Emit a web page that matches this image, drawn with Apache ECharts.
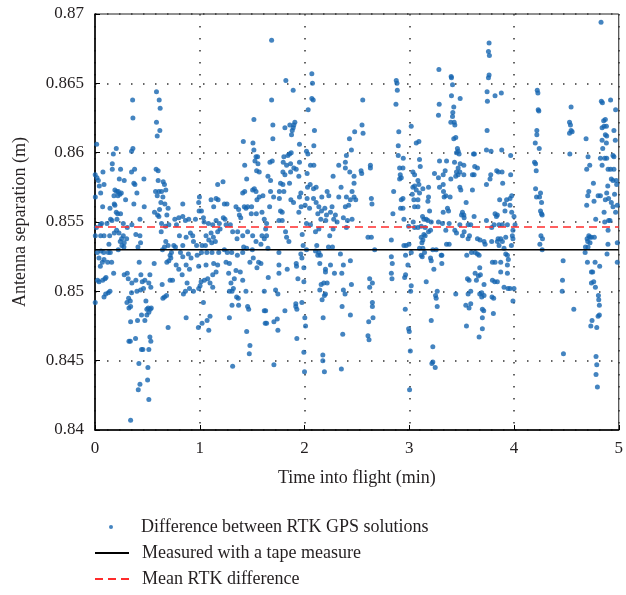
<!DOCTYPE html>
<html><head><meta charset="utf-8">
<script src="https://cdn.jsdelivr.net/npm/echarts@6/dist/echarts.min.js"></script>
<style>html,body{margin:0;padding:0;background:#fff}#c{width:626px;height:595px}</style>
</head><body><div id="c"></div>
<script>
// ---- data ----
const xTicks = [0, 1, 2, 3, 4, 5];
const yTicks = [0.84, 0.845, 0.85, 0.855, 0.86, 0.865, 0.87];
const tapeMeasure = 0.853;
const meanRTK = 0.85464;
const nameScatter = 'Difference between RTK GPS solutions';
const nameTape = 'Measured with a tape measure';
const nameMean = 'Mean RTK difference';
const xTitle = 'Time into flight (min)';
const yTitle = 'Antenna separation (m)';

// [time (min), separation (m)]
const ptsA = [[0.359,0.8638],[0.362,0.8625],[0.587,0.8644],[0.613,0.8638],[0.622,0.8632],[0.587,0.8622],[0.619,0.8616],[0.594,0.8612],[0.016,0.8606],[0.362,0.8603],[0.349,0.8601],[0.203,0.8603],[0.175,0.8599],[0.165,0.8592],[0.165,0.8588],[0.244,0.8588],[0.076,0.8586],[0.378,0.8588],[0.002,0.8584],[0.019,0.8582],[0.032,0.858],[0.584,0.8588],[0.603,0.8587],[0.232,0.8581],[0.279,0.858],[0.467,0.8581],[0.349,0.8586],[0.603,0.858],[0.651,0.8579],[0.663,0.8577],[0.676,0.8573],[0.086,0.8577],[0.041,0.8576],[0.371,0.8578],[0.381,0.8577],[0.003,0.8568],[0.054,0.8571],[0.19,0.8573],[0.206,0.8572],[0.222,0.8572],[0.238,0.857],[0.251,0.8571],[0.181,0.8569],[0.219,0.8569],[0.578,0.8572],[0.61,0.8572],[0.635,0.8572],[0.594,0.8569],[0.648,0.8568],[0.4,0.8571],[0.292,0.8566],[0.073,0.8561],[0.143,0.856],[0.19,0.8562],[0.184,0.8563],[0.371,0.8563],[0.47,0.8561],[0.667,0.8563],[0.629,0.8564],[0.616,0.8559],[0.568,0.8557],[0.597,0.8555],[0.698,0.856],[0.686,0.8555],[0.203,0.8557],[0.216,0.8556],[0.244,0.8556],[0.21,0.8552],[0.149,0.8552],[0.162,0.8551],[0.114,0.8549],[0.063,0.8549],[0.051,0.8548],[0.013,0.8546],[0.429,0.8552],[0.352,0.8548],[0.27,0.8549],[0.308,0.8546],[0.61,0.8554],[0.635,0.8549],[0.632,0.8543],[0.673,0.8547],[0.705,0.8548],[0.762,0.8552],[0.778,0.8548],[0.003,0.854],[0.054,0.854],[0.086,0.854],[0.14,0.854],[0.184,0.8542],[0.206,0.8544],[0.229,0.8542],[0.27,0.854],[0.254,0.8538],[0.302,0.8538],[0.241,0.8536],[0.257,0.8533],[0.276,0.8532],[0.279,0.8535],[0.39,0.8541],[0.429,0.854],[0.435,0.8535],[0.41,0.8532],[0.676,0.8536],[0.698,0.8533],[0.663,0.8532],[0.644,0.853],[0.752,0.8533],[0.768,0.8532],[0.133,0.8534],[0.057,0.8529],[0.083,0.8528],[0.127,0.8528],[0.146,0.8528],[0.222,0.853],[0.022,0.8528],[0.038,0.8524],[0.086,0.8523],[0.07,0.8521],[0.121,0.8521],[0.159,0.8521],[0.051,0.8518],[0.178,0.8513],[0.73,0.8528],[0.717,0.8526],[0.705,0.8522],[0.686,0.8521],[0.724,0.8524],[0.565,0.852],[0.422,0.8521],[0.775,0.8519],[0.279,0.8512],[0.308,0.8513],[0.317,0.8509],[0.352,0.8506],[0.438,0.8512],[0.524,0.8512],[0.39,0.8508],[0.451,0.8507],[0.476,0.8508],[0.514,0.8506],[0.533,0.8503],[0.435,0.8501],[0.463,0.8502],[0.4,0.85],[0.349,0.8499],[0.025,0.8508],[0.038,0.8507],[0.073,0.8508],[0.095,0.8509],[0.105,0.851],[0.086,0.8496],[0.102,0.8498],[0.127,0.8499],[0.143,0.85],[0.002,0.8492],[0.641,0.8505],[0.717,0.8508],[0.74,0.8508],[0.648,0.8495],[0.663,0.8496],[0.683,0.8497],[0.321,0.8495],[0.337,0.8493],[0.305,0.8492],[0.324,0.8488],[0.34,0.8489],[0.486,0.8493],[0.508,0.8488],[0.495,0.8487],[0.527,0.8487],[0.537,0.8488],[0.514,0.8485],[0.495,0.8483],[0.444,0.8483],[0.406,0.8479],[0.476,0.8479],[0.34,0.8478],[0.698,0.8474],[0.337,0.8464],[0.324,0.8464],[0.387,0.8466],[0.444,0.8458],[0.457,0.8458],[0.514,0.8458],[0.524,0.8467],[0.533,0.8464],[0.419,0.8448],[0.505,0.8445],[0.502,0.8436],[0.429,0.8433],[0.413,0.8429],[0.514,0.8422],[0.34,0.8407]];
const ptsB = [[1.517,0.8624],[1.416,0.8608],[1.508,0.8607],[1.517,0.8602],[1.429,0.8591],[1.537,0.8597],[1.527,0.8594],[1.552,0.8597],[1.556,0.8592],[1.543,0.8587],[1.568,0.8586],[1.448,0.8581],[1.222,0.8579],[1.171,0.8577],[1.521,0.8574],[1.505,0.8573],[1.537,0.8572],[1.429,0.8572],[1.41,0.8571],[1.568,0.8568],[1.603,0.8569],[1.546,0.8566],[1.156,0.8567],[1.175,0.8566],[1.108,0.8566],[1.133,0.8561],[0.997,0.8568],[0.99,0.8564],[0.994,0.8558],[1.016,0.8558],[0.838,0.8563],[1.235,0.8563],[1.26,0.8563],[1.346,0.8561],[1.371,0.8559],[1.425,0.8561],[1.457,0.8561],[1.495,0.8561],[1.441,0.856],[1.378,0.8555],[1.391,0.8553],[1.54,0.8556],[1.492,0.8556],[1.594,0.8557],[1.616,0.8552],[0.8,0.8553],[0.838,0.8554],[0.863,0.8551],[0.895,0.8552],[0.959,0.8552],[1.035,0.8553],[1.187,0.8549],[1.225,0.8553],[1.241,0.8552],[1.156,0.8551],[1.124,0.8548],[1.083,0.8549],[1.041,0.855],[1.251,0.8548],[1.292,0.8548],[1.194,0.8545],[1.171,0.8543],[1.108,0.8542],[1.06,0.854],[1.13,0.8539],[1.086,0.8537],[1.022,0.8533],[1.054,0.8533],[1.114,0.8535],[1.149,0.8536],[0.911,0.8542],[0.933,0.854],[0.87,0.8539],[0.838,0.8533],[0.806,0.854],[0.94,0.8536],[0.97,0.8533],[1.314,0.8543],[1.362,0.8543],[1.356,0.8538],[1.41,0.854],[1.457,0.8543],[1.505,0.854],[1.537,0.8536],[1.594,0.854],[1.616,0.8538],[1.419,0.8532],[1.448,0.8531],[1.502,0.853],[1.584,0.8534],[0.816,0.8528],[0.892,0.8527],[0.838,0.8525],[0.917,0.8524],[0.975,0.8526],[1.016,0.8528],[1.067,0.8528],[1.117,0.8528],[1.181,0.8528],[1.235,0.853],[1.263,0.8528],[1.305,0.8528],[1.359,0.8526],[1.41,0.8528],[0.87,0.8519],[0.902,0.8516],[0.832,0.8512],[0.8,0.8516],[0.99,0.8518],[1.06,0.8519],[1.133,0.852],[1.171,0.8519],[1.156,0.8514],[1.124,0.8512],[1.076,0.8509],[1.044,0.8508],[1.013,0.8507],[1.098,0.8506],[1.124,0.8503],[1.251,0.8521],[1.283,0.852],[1.276,0.8513],[1.346,0.8515],[1.33,0.8509],[1.387,0.8514],[1.479,0.8521],[1.511,0.8524],[1.562,0.8521],[1.546,0.8517],[1.584,0.852],[1.41,0.8508],[1.441,0.85],[0.879,0.8506],[0.902,0.8502],[0.94,0.85],[0.863,0.85],[0.844,0.8498],[0.99,0.8502],[1.003,0.8504],[1.298,0.8506],[1.321,0.8502],[1.308,0.85],[1.283,0.85],[1.352,0.8496],[1.368,0.8495],[1.308,0.849],[1.371,0.849],[1.616,0.85],[1.457,0.8489],[1.467,0.8487],[1.616,0.8486],[1.035,0.8492],[0.87,0.8481],[1.098,0.8482],[1.07,0.8479],[1.022,0.8477],[0.987,0.8474],[1.086,0.8472],[1.283,0.8481],[1.625,0.8477],[1.448,0.8471],[1.479,0.8461],[1.473,0.8455],[1.314,0.8446]];
const ptsC = [[1.686,0.8681],[1.822,0.8652],[2.07,0.8657],[2.076,0.865],[1.892,0.8645],[1.686,0.8638],[2.07,0.8639],[2.083,0.8638],[2.035,0.8631],[1.908,0.8622],[1.898,0.862],[1.892,0.8618],[1.883,0.8616],[1.813,0.8618],[1.698,0.862],[1.86,0.862],[1.876,0.8613],[1.698,0.861],[2.095,0.8616],[1.952,0.8606],[2.089,0.8605],[2.019,0.8601],[2.032,0.8599],[1.692,0.8594],[1.67,0.8593],[1.803,0.8597],[1.841,0.8598],[1.857,0.8599],[1.873,0.86],[1.797,0.8593],[1.829,0.8591],[1.867,0.8592],[1.898,0.8589],[1.921,0.8588],[1.952,0.8593],[2.057,0.8591],[2.089,0.8591],[1.651,0.8583],[1.676,0.858],[1.794,0.8586],[1.813,0.8584],[1.867,0.8586],[1.946,0.8583],[2.025,0.8585],[2.273,0.8583],[2.327,0.8591],[2.39,0.8593],[2.39,0.8589],[2.432,0.8586],[2.448,0.8602],[2.429,0.861],[2.4,0.8598],[1.771,0.8578],[1.794,0.8577],[1.857,0.8578],[1.676,0.8572],[1.76,0.8572],[1.803,0.8572],[1.705,0.8568],[1.76,0.8567],[1.87,0.8566],[1.895,0.8564],[1.952,0.8568],[1.965,0.8571],[2.029,0.8575],[2.054,0.8577],[2.086,0.8574],[2.111,0.8575],[2.025,0.8567],[2.086,0.8567],[2.111,0.8564],[2.165,0.8568],[2.216,0.8572],[2.232,0.8569],[2.327,0.8568],[2.349,0.8575],[2.4,0.8568],[2.438,0.8566],[2.454,0.8572],[1.667,0.8561],[1.968,0.8561],[2.006,0.8562],[2.048,0.856],[2.137,0.8561],[2.194,0.856],[2.263,0.8561],[2.39,0.8561],[2.422,0.8562],[1.771,0.8558],[1.787,0.8557],[1.946,0.8557],[2.127,0.8556],[2.162,0.8558],[2.21,0.8555],[2.248,0.8557],[2.295,0.8555],[1.756,0.8551],[1.787,0.8551],[2.156,0.8552],[2.203,0.8551],[2.279,0.8552],[2.311,0.855],[2.371,0.8553],[2.41,0.8551],[2.454,0.8552],[2.019,0.8549],[2.057,0.8548],[1.638,0.8549],[1.629,0.8545],[2.137,0.8545],[2.105,0.8543],[2.273,0.8545],[2.4,0.8546],[1.819,0.8543],[1.829,0.8539],[1.851,0.8536],[1.978,0.8541],[1.638,0.854],[2.241,0.854],[2.117,0.8533],[2.229,0.8532],[2.267,0.8532],[1.987,0.8533],[2.019,0.853],[2.105,0.8529],[2.137,0.8528],[2.152,0.8526],[2.343,0.8527],[2.438,0.8522],[1.651,0.8531],[1.756,0.8528],[1.965,0.8527],[1.975,0.8524],[2.127,0.8526],[2.146,0.852],[2.2,0.8516],[2.2,0.8514],[2.248,0.8519],[2.286,0.8513],[2.371,0.8519],[2.356,0.8513],[1.654,0.851],[1.756,0.8519],[1.756,0.8513],[1.835,0.8516],[1.921,0.852],[1.924,0.8518],[1.994,0.8517],[1.937,0.8509],[1.994,0.8507],[2.159,0.8505],[2.184,0.8506],[2.216,0.8506],[2.146,0.8501],[2.2,0.8498],[2.168,0.8494],[2.19,0.8497],[2.371,0.8501],[2.387,0.8498],[2.448,0.8505],[1.724,0.8501],[1.746,0.8498],[1.975,0.8492],[1.917,0.8491],[1.917,0.8489],[1.927,0.8487],[1.629,0.8486],[1.813,0.8486],[2.359,0.8489],[2.438,0.8483],[2.003,0.8481],[2.01,0.8475],[2.178,0.8481],[1.638,0.8477],[1.708,0.8478],[1.74,0.848],[1.746,0.8472],[1.927,0.8466],[2.365,0.8469],[1.994,0.8456],[2.175,0.8454],[2.175,0.845],[2.19,0.8442],[2.352,0.8444],[1.708,0.8447],[2.0,0.8442]];
const ptsD = [[3.283,0.866],[2.876,0.8652],[2.883,0.865],[2.886,0.8645],[2.556,0.8638],[2.873,0.8635],[3.286,0.8635],[3.279,0.8627],[3.019,0.8619],[2.549,0.862],[2.559,0.8614],[2.479,0.8615],[2.9,0.8615],[3.067,0.8607],[3.092,0.8608],[2.895,0.8605],[2.895,0.8598],[2.943,0.8596],[3.289,0.8594],[3.098,0.8595],[3.105,0.859],[2.908,0.8589],[2.94,0.8589],[2.914,0.8584],[2.924,0.8582],[2.908,0.8581],[3.035,0.8586],[3.051,0.8584],[3.083,0.858],[2.629,0.8591],[2.629,0.8589],[2.54,0.8587],[2.546,0.8585],[2.473,0.8583],[2.473,0.8578],[3.241,0.8585],[3.279,0.8582],[3.289,0.8575],[3.035,0.8575],[3.051,0.8576],[3.092,0.8577],[3.13,0.8574],[3.184,0.8575],[3.067,0.8573],[2.851,0.8572],[3.029,0.857],[3.098,0.8571],[3.184,0.8568],[3.083,0.8566],[3.044,0.8566],[2.94,0.8567],[2.924,0.8566],[2.473,0.8568],[2.489,0.8566],[2.638,0.8567],[2.644,0.8563],[3.051,0.8561],[3.083,0.8561],[3.178,0.8565],[3.194,0.8558],[2.917,0.856],[2.94,0.856],[2.844,0.8556],[2.949,0.8552],[3.127,0.8554],[3.14,0.8552],[3.162,0.8552],[3.178,0.8551],[3.21,0.855],[3.279,0.855],[3.038,0.855],[2.994,0.8547],[3.051,0.8546],[3.083,0.8546],[3.114,0.8547],[3.152,0.8546],[3.184,0.8543],[3.203,0.8544],[3.14,0.8541],[3.114,0.8539],[3.152,0.854],[3.13,0.8537],[3.121,0.8535],[3.098,0.8531],[3.13,0.8531],[3.146,0.8528],[3.114,0.8526],[3.124,0.8525],[3.225,0.853],[3.257,0.853],[3.305,0.8526],[3.203,0.8524],[3.21,0.8522],[3.235,0.8516],[2.606,0.8539],[2.638,0.8539],[2.67,0.853],[2.829,0.8537],[2.949,0.8533],[2.971,0.8533],[2.997,0.8534],[3.019,0.8528],[2.965,0.8526],[2.987,0.8519],[2.829,0.8525],[2.838,0.852],[2.829,0.8513],[2.835,0.8509],[2.965,0.8512],[2.956,0.851],[3.019,0.8504],[3.013,0.85],[2.622,0.8509],[2.648,0.8506],[2.622,0.8503],[2.648,0.8492],[2.648,0.8489],[2.654,0.8481],[2.613,0.8478],[2.606,0.8468],[2.616,0.8465],[3.162,0.8507],[3.267,0.85],[3.251,0.8497],[3.257,0.8495],[3.267,0.8489],[2.962,0.8487],[3.21,0.8479],[2.994,0.8473],[3.0,0.8471],[3.01,0.8457],[3.225,0.846],[3.225,0.8449],[3.216,0.8448],[3.248,0.8445],[3.003,0.8429]];
const ptsE = [[3.762,0.8679],[3.756,0.8673],[3.765,0.867],[3.4,0.8655],[3.403,0.8654],[3.762,0.8656],[3.756,0.8654],[3.413,0.8649],[3.743,0.8644],[3.819,0.8641],[3.879,0.8643],[3.403,0.8641],[3.486,0.8639],[3.746,0.8637],[3.425,0.8633],[3.416,0.8629],[3.413,0.8626],[3.397,0.8622],[3.429,0.8622],[3.435,0.862],[3.743,0.8616],[3.444,0.8611],[3.425,0.861],[3.46,0.8603],[3.467,0.8601],[3.451,0.86],[3.476,0.8599],[3.737,0.8602],[3.781,0.8601],[3.883,0.8602],[3.968,0.8598],[3.356,0.8594],[3.432,0.8593],[3.486,0.8592],[3.521,0.8591],[3.613,0.8599],[3.622,0.8599],[3.625,0.859],[3.651,0.8589],[3.467,0.8589],[3.451,0.8586],[3.343,0.8587],[3.324,0.8584],[3.483,0.8586],[3.521,0.8584],[3.778,0.8584],[3.835,0.8587],[3.851,0.8586],[3.886,0.8586],[3.771,0.8581],[3.968,0.8584],[3.397,0.8581],[3.444,0.8583],[3.467,0.8584],[3.603,0.8584],[3.619,0.8584],[3.892,0.8578],[3.737,0.8577],[3.324,0.8577],[3.327,0.8572],[3.349,0.8569],[3.333,0.8568],[3.39,0.8568],[3.483,0.8575],[3.492,0.8573],[3.603,0.8573],[3.978,0.8569],[3.962,0.8567],[3.929,0.8566],[3.863,0.8566],[3.543,0.8564],[3.911,0.8563],[3.962,0.8562],[3.365,0.856],[3.375,0.8558],[3.324,0.8557],[3.914,0.8558],[3.978,0.8557],[4.0,0.8554],[3.508,0.8557],[3.521,0.8555],[3.499,0.8555],[3.524,0.8553],[3.619,0.8554],[3.819,0.8556],[3.841,0.8555],[3.832,0.8554],[3.737,0.8551],[3.317,0.8549],[3.381,0.8549],[3.483,0.8548],[3.562,0.8548],[3.587,0.8548],[3.81,0.8548],[3.857,0.8548],[3.889,0.8548],[3.937,0.8548],[4.01,0.8548],[3.99,0.8544],[3.787,0.8546],[3.349,0.8544],[3.435,0.8544],[3.451,0.8542],[3.524,0.8543],[3.508,0.854],[3.575,0.854],[3.562,0.8538],[3.651,0.8538],[3.676,0.8537],[3.714,0.8536],[3.724,0.8534],[3.787,0.8536],[3.848,0.8538],[3.873,0.8538],[3.889,0.8536],[3.841,0.8536],[3.857,0.8533],[3.921,0.8539],[3.984,0.854],[3.99,0.8538],[3.975,0.8533],[3.905,0.8531],[3.921,0.8527],[3.937,0.8526],[3.356,0.8534],[3.381,0.8534],[3.311,0.8526],[3.549,0.8526],[3.594,0.8528],[3.629,0.8528],[3.651,0.8527],[3.667,0.8526],[3.794,0.8521],[3.819,0.8521],[3.873,0.8521],[3.946,0.8523],[3.937,0.8519],[3.937,0.8513],[3.873,0.8514],[3.673,0.8517],[3.629,0.8513],[3.66,0.8511],[3.679,0.8512],[3.641,0.8508],[3.571,0.8508],[3.556,0.8509],[3.714,0.8505],[3.794,0.8508],[3.816,0.8507],[3.841,0.8507],[3.311,0.852],[3.905,0.8503],[3.943,0.8502],[3.962,0.8502],[4.0,0.8502],[3.99,0.8493],[3.444,0.8498],[3.587,0.85],[3.562,0.8498],[3.673,0.8498],[3.692,0.8499],[3.692,0.8496],[3.714,0.8497],[3.79,0.8496],[3.806,0.8495],[3.54,0.849],[3.587,0.8491],[3.571,0.8488],[3.698,0.8487],[3.711,0.8486],[3.803,0.8484],[3.698,0.8481],[3.546,0.8475],[3.698,0.8473],[3.667,0.8467]];
const ptsF = [[4.831,0.8694],[4.222,0.8645],[4.228,0.8643],[4.231,0.8631],[4.237,0.863],[4.218,0.8616],[4.218,0.8613],[4.203,0.8607],[4.241,0.8603],[4.196,0.8593],[4.206,0.8592],[4.212,0.8587],[4.206,0.8574],[4.215,0.8568],[4.244,0.8568],[4.253,0.8571],[4.263,0.8564],[4.253,0.8558],[4.263,0.8556],[4.269,0.8555],[4.257,0.854],[4.272,0.8538],[4.247,0.8534],[4.269,0.853],[4.545,0.8633],[4.53,0.8622],[4.539,0.862],[4.545,0.8616],[4.53,0.8614],[4.555,0.8615],[4.533,0.8599],[4.469,0.8522],[4.463,0.8508],[4.46,0.85],[4.571,0.8487],[4.472,0.8455],[4.688,0.861],[4.707,0.8597],[4.694,0.8588],[4.723,0.8591],[4.758,0.8578],[4.714,0.8572],[4.704,0.8569],[4.694,0.8562],[4.764,0.8565],[4.803,0.8569],[4.825,0.8569],[4.78,0.8552],[4.714,0.854],[4.723,0.8539],[4.739,0.8539],[4.767,0.8539],[4.698,0.8538],[4.704,0.8536],[4.726,0.8535],[4.682,0.8532],[4.679,0.8528],[4.707,0.8532],[4.701,0.8521],[4.739,0.8514],[4.751,0.8514],[4.774,0.8521],[4.818,0.8518],[4.739,0.8506],[4.761,0.8507],[4.777,0.8503],[4.806,0.8497],[4.809,0.8494],[4.815,0.849],[4.803,0.8482],[4.815,0.8483],[4.745,0.8479],[4.733,0.8475],[4.79,0.8474],[4.783,0.8453],[4.79,0.8447],[4.783,0.844],[4.796,0.8431],[4.834,0.8637],[4.844,0.8636],[4.856,0.8623],[4.872,0.8624],[4.841,0.8618],[4.86,0.8619],[4.882,0.8619],[4.872,0.8613],[4.885,0.8612],[4.841,0.8609],[4.882,0.8607],[4.847,0.8603],[4.825,0.8596],[4.866,0.8596],[4.885,0.8596],[4.841,0.8591],[4.898,0.8588],[4.895,0.8576],[4.885,0.8571],[4.872,0.8566],[4.86,0.8557],[4.866,0.855],[4.898,0.8544],[4.888,0.8527],[4.922,0.8638],[4.97,0.8631],[4.954,0.8616],[4.967,0.8609],[4.945,0.8598],[4.954,0.8597],[4.922,0.8588],[4.954,0.8588],[4.929,0.8581],[4.945,0.858],[4.976,0.858],[4.98,0.8577],[4.96,0.857],[4.929,0.8564],[4.945,0.8561],[4.986,0.8562],[4.97,0.8557],[4.916,0.8551],[4.986,0.8535],[4.986,0.8521],[4.903,0.8567],[4.897,0.8534],[4.903,0.8551]];

// ---- chart ----
const FONT = '"Liberation Serif", "DejaVu Serif", serif';
const TXT = '#231f20';
const DOT = '#1565b0';
const chart = echarts.init(document.getElementById('c'), null, {renderer: 'canvas'});
const allPts = ptsA.concat(ptsB, ptsC, ptsD, ptsE, ptsF);
const xMin = xTicks[0], xMax = xTicks[xTicks.length - 1];
const yMin = yTicks[0], yMax = yTicks[yTicks.length - 1];
const gridLine = {show: true, lineStyle: {type: [1.5, 10.5], color: '#333', width: 1.5}};
// small dot centred in a 34x14 legend box
const dotIcon = 'path://M0,0L0,0M34,14L34,14M15,7a2,2 0 1,0 4,0a2,2 0 1,0 -4,0Z';
const legendText = {fontFamily: FONT, fontSize: 18, color: TXT, lineHeight: 20, padding: [0, 0, 0, 8]};
function legendRow(name, top, icon) {
  const item = icon ? {name: name, icon: icon} : {name: name};
  return {data: [item], left: 94, top: top, padding: 0, itemWidth: 34, itemHeight: 14,
    selectedMode: false, textStyle: legendText,
    itemStyle: icon ? {color: DOT} : {opacity: 0}};
}

chart.setOption({
  animation: false,
  backgroundColor: '#fff',
  grid: {left: 95, right: 6, top: 14, bottom: 165, show: true, borderColor: '#222', borderWidth: 1, backgroundColor: 'transparent'},
  xAxis: {
    type: 'value', min: xMin, max: xMax, interval: 1,
    name: xTitle, nameLocation: 'middle', nameGap: 39,
    nameTextStyle: {fontFamily: FONT, fontSize: 18, color: TXT},
    axisLine: {show: true, onZero: false, lineStyle: {color: '#000', width: 1.5}},
    axisTick: {show: true, inside: true, length: 5, lineStyle: {color: '#000', width: 1}},
    axisLabel: {fontFamily: FONT, fontSize: 17, color: TXT, margin: 10},
    splitLine: gridLine
  },
  yAxis: {
    type: 'value', min: yMin, max: yMax, interval: 0.005,
    name: yTitle, nameLocation: 'middle', nameGap: 66, nameRotate: 90,
    nameTextStyle: {fontFamily: FONT, fontSize: 18, color: TXT},
    axisLine: {show: true, onZero: false, lineStyle: {color: '#000', width: 1.5}},
    axisTick: {show: true, inside: true, length: 5, lineStyle: {color: '#000', width: 1}},
    axisLabel: {fontFamily: FONT, fontSize: 17, color: TXT, margin: 11,
      formatter: v => String(+v.toFixed(3))},
    splitLine: gridLine
  },
  legend: [
    legendRow(nameScatter, 517, dotIcon),
    legendRow(nameTape, 543, null),
    legendRow(nameMean, 569, null)
  ],
  series: [
    {name: nameScatter, type: 'scatter', data: allPts, symbolSize: 5,
     itemStyle: {color: DOT}},
    {name: nameTape, type: 'line', data: [[xMin, tapeMeasure], [xMax, tapeMeasure]], symbol: 'none',
     lineStyle: {color: '#000', width: 1.3}, itemStyle: {color: '#000'}},
    {name: nameMean, type: 'line', data: [[xMin, meanRTK], [xMax, meanRTK]], symbol: 'none',
     lineStyle: {color: '#ff2b2b', width: 1.5, type: [8, 5]}, itemStyle: {color: '#ff2b2b'}}
  ]
});
</script>
</body></html>
